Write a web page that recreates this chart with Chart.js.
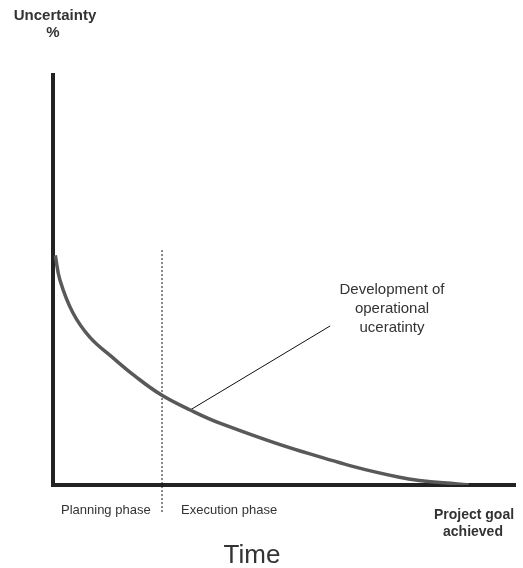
<!DOCTYPE html>
<html>
<head>
<meta charset="utf-8">
<script src="https://cdn.jsdelivr.net/npm/chart.js@4/dist/chart.umd.min.js"></script>
<style>
  html, body { margin: 0; padding: 0; background: #fff; }
  #wrap { width: 523px; height: 568px; }
</style>
</head>
<body>
<div id="wrap"><canvas id="uncertaintyChart" width="523" height="568"></canvas></div>
<script>
// time runs 0..100 (planning start .. project goal), uncertainty 0..100
const timeValues = [0.5, 1.5, 4.3, 8, 13, 17.7, 23.4, 29.7, 36.1, 53.5, 75, 90];
const uncertaintyValues = [56, 50, 42, 36, 31, 26.6, 22, 18.3, 15.1, 8.3, 1.9, 0];

// dashed phase boundary
const phaseBoundaryX = [23.6, 23.6];
const phaseBoundaryY = [57.3, -6.6];

// leader line from the curve to its label
const leaderX = [29.7, 60];
const leaderY = [18.3, 38.8];

const phaseLabels = ["Planning phase", "Execution phase"];
const curveLabel = ["Development of", "operational", "uceratinty"];
const yAxisLabel = ["Uncertainty", "%"];
const xAxisLabel = "Time";
const goalLabel = ["Project goal", "achieved"];

const toPoints = (xs, ys) => xs.map((x, i) => ({ x: x, y: ys[i] }));

// texts drawn on top of the canvas
const textPlugin = {
  id: "texts",
  afterDraw(chart) {
    const ctx = chart.ctx;
    ctx.save();
    ctx.fillStyle = "#333";
    ctx.textBaseline = "middle";

    ctx.font = "bold 15px 'Liberation Sans', Arial, sans-serif";
    ctx.textAlign = "center";
    ctx.fillText(yAxisLabel[0], 55, 16);
    ctx.fillText(yAxisLabel[1], 53, 33);

    ctx.font = "13px 'Liberation Sans', Arial, sans-serif";
    ctx.textAlign = "left";
    ctx.fillText(phaseLabels[0], 61, 510);
    ctx.fillText(phaseLabels[1], 181, 510);

    ctx.font = "15px 'Liberation Sans', Arial, sans-serif";
    ctx.textAlign = "center";
    curveLabel.forEach((line, i) => ctx.fillText(line, 392, 290 + i * 19));

    ctx.font = "bold 14px 'Liberation Sans', Arial, sans-serif";
    ctx.fillText(goalLabel[0], 474, 515);
    ctx.fillText(goalLabel[1], 473, 532);

    ctx.font = "26px 'Liberation Sans', Arial, sans-serif";
    ctx.fillText(xAxisLabel, 252, 556);
    ctx.restore();
  },
};

var ctx = document.getElementById("uncertaintyChart").getContext("2d");
new Chart(ctx, {
  type: "line",
  data: {
    datasets: [
      {
        label: "Development of operational uncertainty",
        data: toPoints(timeValues, uncertaintyValues),
        borderColor: "#595959",
        borderWidth: 3.5,
        pointRadius: 0,
        tension: 0.4,
        fill: false,
      },
      {
        label: "Phase boundary",
        data: toPoints(phaseBoundaryX, phaseBoundaryY),
        borderColor: "#111",
        borderWidth: 1,
        borderDash: [2, 2],
        pointRadius: 0,
        fill: false,
        clip: false,
      },
      {
        label: "Leader",
        data: toPoints(leaderX, leaderY),
        borderColor: "#111",
        borderWidth: 1,
        pointRadius: 0,
        fill: false,
      },
    ],
  },
  options: {
    responsive: false,
    animation: false,
    events: [],
    layout: { padding: { left: 53, right: 8, top: 75, bottom: 83 } },
    plugins: {
      legend: { display: false },
      tooltip: { enabled: false },
      title: { display: false },
    },
    scales: {
      x: {
        type: "linear",
        min: 0,
        max: 100,
        grid: { display: false, drawTicks: false },
        ticks: { display: false },
        border: { display: true, color: "#222", width: 4 },
        afterFit: (scale) => { scale.height = 0; },
      },
      y: {
        type: "linear",
        min: 0,
        max: 100,
        grid: { display: false, drawTicks: false },
        ticks: { display: false },
        border: { display: true, color: "#222", width: 4 },
        afterFit: (scale) => { scale.width = 0; },
      },
    },
  },
  plugins: [textPlugin],
});
</script>
</body>
</html>
